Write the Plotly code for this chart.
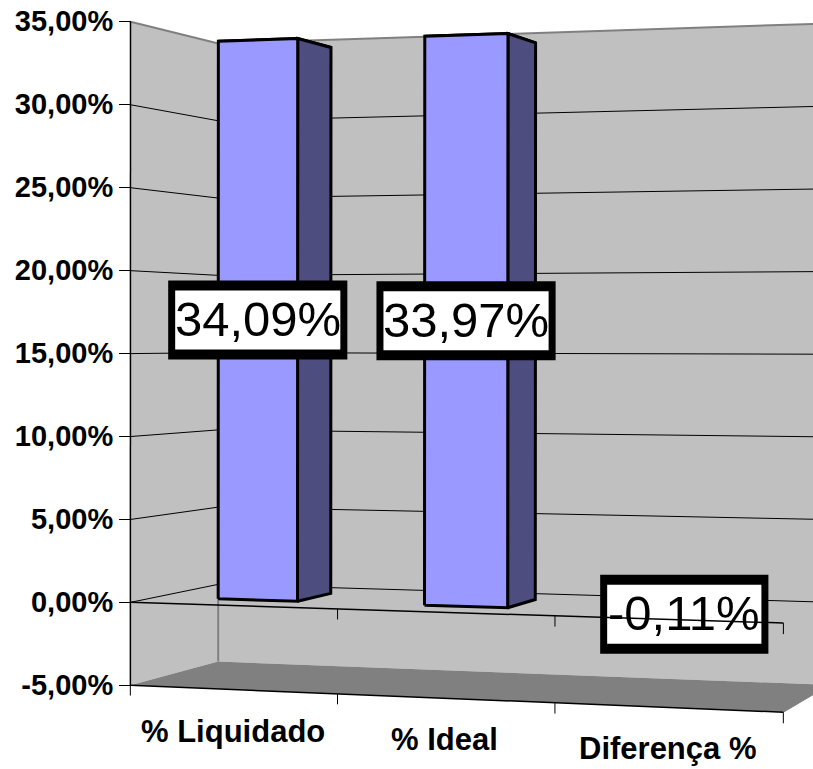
import numpy as np
import plotly.graph_objects as go

categories = ["% Liquidado", "% Ideal", "Diferença %"]
values = [34.09, 33.97, -0.11]
value_labels = ["34,09%", "33,97%", "-0,11%"]
y_ticks = [-5, 0, 5, 10, 15, 20, 25, 30, 35]
y_tick_labels = ["-5,00%", "0,00%", "5,00%", "10,00%", "15,00%", "20,00%", "25,00%", "30,00%", "35,00%"]

W, H = 813, 769
PX_PER_UNIT = 16.6
Y_TOP_PX = 21
V_MIN, V_MAX = -5, 35

# perspective calibration: (category position, depth, value) -> screen pixel
calib = [
    (0, 0, 35, 131, 21), (0, 0, -5, 131, 685), (3, 0, -5, 783, 712), (3, 0, 0, 783, 623),
    (1, 0, -5, 337, 694), (2, 0, -5, 555, 704), (0, 1, 35, 218, 44), (0, 1, -5, 218, 661),
    (0, 1, 0, 218, 585), (3, 1, 35, 830, 23.5), (3, 1, -5, 830, 684), (3, 1, 0, 830, 602.5),
]
rows = []
for u, d, v, px, py in calib:
    rows.append([u, d, v, 1, 0, 0, 0, 0, -px * u, -px * d, -px * v, -px])
    rows.append([0, 0, 0, 0, u, d, v, 1, -py * u, -py * d, -py * v, -py])
P = np.linalg.svd(np.array(rows, float))[2][-1].reshape(3, 4)


def vy(py):
    return V_MAX - (py - Y_TOP_PX) / PX_PER_UNIT


def proj(u, d, v):
    a = P @ np.array([u, d, v, 1.0])
    return a[0] / a[2], vy(a[1] / a[2])


def path(pts):
    xy = [proj(*p) for p in pts]
    return [q[0] for q in xy], [q[1] for q in xy]


fig = go.Figure()


def poly(pts, fill, line="rgba(0,0,0,0)", width=0, close=True):
    x, y = path(pts)
    if close:
        x.append(x[0])
        y.append(y[0])
    fig.add_trace(go.Scatter(x=x, y=y, mode="lines", fill="toself" if fill else None, fillcolor=fill,
                             line=dict(color=line, width=width), hoverinfo="skip", showlegend=False))


def seg(a, b, color="#000000", width=1):
    poly([a, b], None, color, width, close=False)


WALL, FLOOR, EDGE = "#c0c0c0", "#808080", "#808080"
U_MAX = 3
# left wall, back wall, floor
poly([(0, 0, V_MIN), (0, 0, V_MAX), (0, 1, V_MAX), (0, 1, V_MIN)], WALL)
poly([(0, 1, V_MIN), (0, 1, V_MAX), (U_MAX, 1, V_MAX), (U_MAX, 1, V_MIN)], WALL)
poly([(0, 0, V_MIN), (0, 1, V_MIN), (U_MAX, 1, V_MIN), (U_MAX, 0, V_MIN)], FLOOR)
seg((0, 0, V_MAX), (0, 1, V_MAX), EDGE, 2)
seg((0, 1, V_MAX), (U_MAX, 1, V_MAX), EDGE, 2)
seg((0, 1, V_MIN), (0, 1, V_MAX), EDGE, 2)
# gridlines
for t in y_ticks[1:-1]:
    seg((0, 0, t), (0, 1, t))
    seg((0, 1, t), (U_MAX, 1, t))

BAR_W, D0, D1 = 0.195, 0.29, 0.71
FRONT, SIDE, TOP = "#9999ff", "#4d4d80", "#7a7acc"
LW = 3
for i, val in enumerate(values):
    c = i + 0.5
    u0, u1 = c - BAR_W, c + BAR_W
    lo, hi = min(0, val), max(0, val)
    poly([(u0, D1, hi), (u1, D1, hi), (u1, D0, hi), (u0, D0, hi)], TOP, "#000000", LW)
    poly([(u1, D0, lo), (u1, D0, hi), (u1, D1, hi), (u1, D1, lo)], SIDE, "#000000", LW)
    poly([(u0, D0, lo), (u0, D0, hi), (u1, D0, hi), (u1, D0, lo)], FRONT, "#000000", LW)

# data label boxes, centred on each bar's front face and sized to their text
LABEL_SIZE = 49
EM = {"-": 0.333, ",": 0.278, "%": 0.889}
PAD_OUT = (6.5, 39.5)
PAD_IN = (-0.5, 29.5)


def half_width(text):
    return sum(EM.get(ch, 0.556) for ch in text) * LABEL_SIZE / 2


for i, (val, lab) in enumerate(zip(values, value_labels)):
    cx, cy = proj(i + 0.5, D0, val / 2)
    for (pw, ph), col in ((PAD_OUT, "#000000"), (PAD_IN, "#ffffff")):
        hw = half_width(lab) + pw
        hh_v = ph / PX_PER_UNIT
        fig.add_trace(go.Scatter(x=[cx - hw, cx + hw, cx + hw, cx - hw, cx - hw],
                                 y=[cy - hh_v, cy - hh_v, cy + hh_v, cy + hh_v, cy - hh_v],
                                 mode="lines", fill="toself", fillcolor=col, line=dict(width=0),
                                 hoverinfo="skip", showlegend=False))

# front axis lines and ticks
seg((0, 0, V_MIN), (0, 0, V_MAX), "#000000", 1.5)
seg((0, 0, 0), (U_MAX, 0, 0), "#000000", 1.5)
seg((0, 0, V_MIN), (U_MAX, 0, V_MIN), "#000000", 1.5)
seg((U_MAX, 0, V_MIN), (U_MAX, 1, V_MIN), FLOOR, 1)
TICK = 0.62
for k in range(U_MAX + 1):
    seg((k, 0, V_MIN), (k, 0, V_MIN - TICK), "#000000", 1)
    if k:
        seg((k, 0, 0), (k, 0, -TICK), "#000000", 1)

FONT = "Liberation Sans, Arial, sans-serif"
annotations = []
for i, (val, lab) in enumerate(zip(values, value_labels)):
    cx, cy = proj(i + 0.5, D0, val / 2)
    annotations.append(dict(x=cx, y=cy, text=lab, showarrow=False, xanchor="center", yanchor="middle", yshift=1,
                            font=dict(family=FONT, size=LABEL_SIZE, color="#000000")))
for i, cat in enumerate(categories):
    cx, cy = proj(i + 0.5, 0, V_MIN)
    annotations.append(dict(x=cx, y=cy - 2.5, text="<b>%s</b>" % cat, showarrow=False, xanchor="center",
                            yanchor="middle", font=dict(family=FONT, size=31, color="#000000")))

fig.update_layout(
    width=W, height=H, margin=dict(l=0, r=0, t=0, b=0), paper_bgcolor="#ffffff", plot_bgcolor="#ffffff",
    showlegend=False, annotations=annotations,
    xaxis=dict(range=[0, W], visible=False, fixedrange=True),
    yaxis=dict(range=[vy(H), vy(0)], anchor="free", position=131 / W, tickmode="array", tickvals=y_ticks,
               ticktext=y_tick_labels, ticks="outside", ticklen=12, tickcolor="#000000", tickwidth=1,
               showgrid=False, zeroline=False, showline=False, fixedrange=True,
               tickfont=dict(family=FONT, size=29, color="#000000", weight="bold")),
)
fig.write_html("out.html", config=dict(displayModeBar=False),
               post_script="document.body.style.margin='0';document.body.style.overflow='hidden';")
